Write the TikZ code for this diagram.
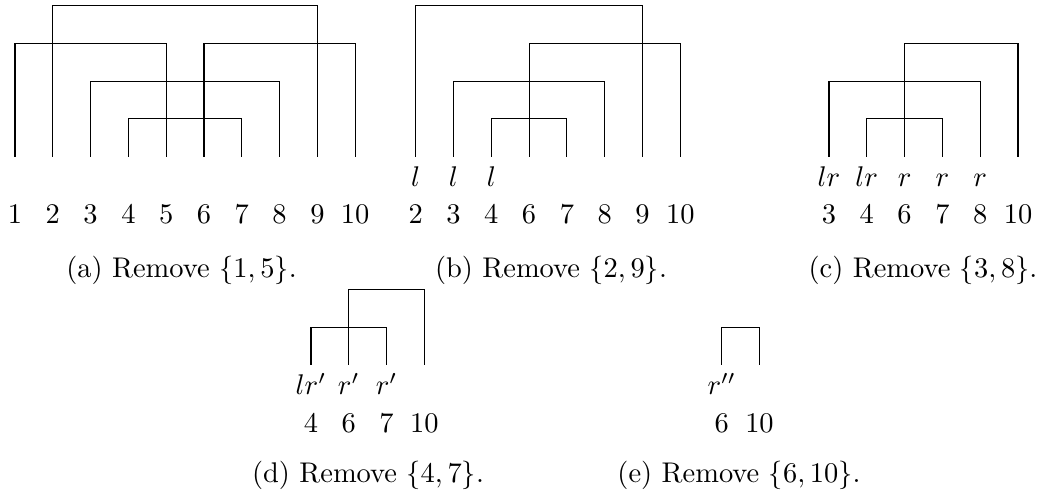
\documentclass[tikz,border=0pt]{standalone}
\begin{document}
\begin{tikzpicture}[x=0.3514pt,y=-0.3514pt,
  num/.style={anchor=base,inner sep=0pt,font=\fontsize{10}{12}\selectfont},
  lab/.style={anchor=base,inner sep=0pt,font=\fontsize{10}{12}\selectfont},
  captxt/.style={anchor=base,inner sep=0pt,font=\fontsize{10}{12}\selectfont},
  brk/.style={draw=black,line width=0.4pt}]
\useasboundingbox (0,0) rectangle (1043,496);
% ---------- (a) ----------
\foreach \n [count=\i from 0] in {1,2,3,4,5,6,7,8,9,10} {
  \coordinate (a\n) at (15+37.8*\i,156.7);
  \node[num] (na\n) at (15+37.8*\i,224) {\n};
}
\draw[brk] (a4) -- ++(0,-37.8) -| (a7);
\draw[brk] (a3) -- ++(0,-75.6) -| (a8);
\draw[brk] (a1) -- ++(0,-113.4) -| (a5);
\draw[brk] (a6) -- ++(0,-113.4) -| (a10);
\draw[brk] (a2) -- ++(0,-151.2) -| (a9);
\node[captxt] (capa) at (181.5,277.5) {(a) Remove $\{1,5\}$.};
% ---------- (b) ----------
\foreach \n [count=\i from 0] in {2,3,4,6,7,8,9,10} {
  \coordinate (b\n) at (415.7+37.8*\i,156.7);
  \node[num] (nb\n) at (415.7+37.8*\i,224) {\n};
}
\draw[brk] (b4) -- ++(0,-37.8) -| (b7);
\draw[brk] (b3) -- ++(0,-75.6) -| (b8);
\draw[brk] (b6) -- ++(0,-113.4) -| (b10);
\draw[brk] (b2) -- ++(0,-151.2) -| (b9);
\node[lab] (lb2) at (415.7,186.5) {$l$};
\node[lab] (lb3) at (453.5,186.5) {$l$};
\node[lab] (lb4) at (491.3,186.5) {$l$};
\node[captxt] (capb) at (551,277.5) {(b) Remove $\{2,9\}$.};
% ---------- (c) ----------
\foreach \n [count=\i from 0] in {3,4,6,7,8,10} {
  \coordinate (c\n) at (829+37.8*\i,156.7);
  \node[num] (nc\n) at (829+37.8*\i,224) {\n};
}
\draw[brk] (c4) -- ++(0,-37.8) -| (c7);
\draw[brk] (c3) -- ++(0,-75.6) -| (c8);
\draw[brk] (c6) -- ++(0,-113.4) -| (c10);
\node[lab] (lc3) at (829,186.5) {$lr$};
\node[lab] (lc4) at (866.8,186.5) {$lr$};
\node[lab] (lc6) at (904.6,186.5) {$r$};
\node[lab] (lc7) at (942.4,186.5) {$r$};
\node[lab] (lc8) at (980.2,186.5) {$r$};
\node[captxt] (capc) at (923,277.5) {(c) Remove $\{3,8\}$.};
% ---------- (d) ----------
\foreach \n [count=\i from 0] in {4,6,7,10} {
  \coordinate (d\n) at (311+37.8*\i,365);
  \node[num] (nd\n) at (311+37.8*\i,432.7) {\n};
}
\draw[brk] (d4) -- ++(0,-37.8) -| (d7);
\draw[brk] (d6) -- ++(0,-75.6) -| (d10);
\node[lab] (ld4) at (311,395) {$lr'$};
\node[lab] (ld6) at (348.8,395) {$r'$};
\node[lab] (ld7) at (386.6,395) {$r'$};
\node[captxt] (capd) at (368,483) {(d) Remove $\{4,7\}$.};
% ---------- (e) ----------
\foreach \n [count=\i from 0] in {6,10} {
  \coordinate (e\n) at (721.7+37.8*\i,365);
  \node[num] (ne\n) at (721.7+37.8*\i,432.7) {\n};
}
\draw[brk] (e6) -- ++(0,-37.8) -| (e10);
\node[lab] (le6) at (721.7,395) {$r''$};
\node[captxt] (cape) at (739,483) {(e) Remove $\{6,10\}$.};
\end{tikzpicture}
\end{document}
